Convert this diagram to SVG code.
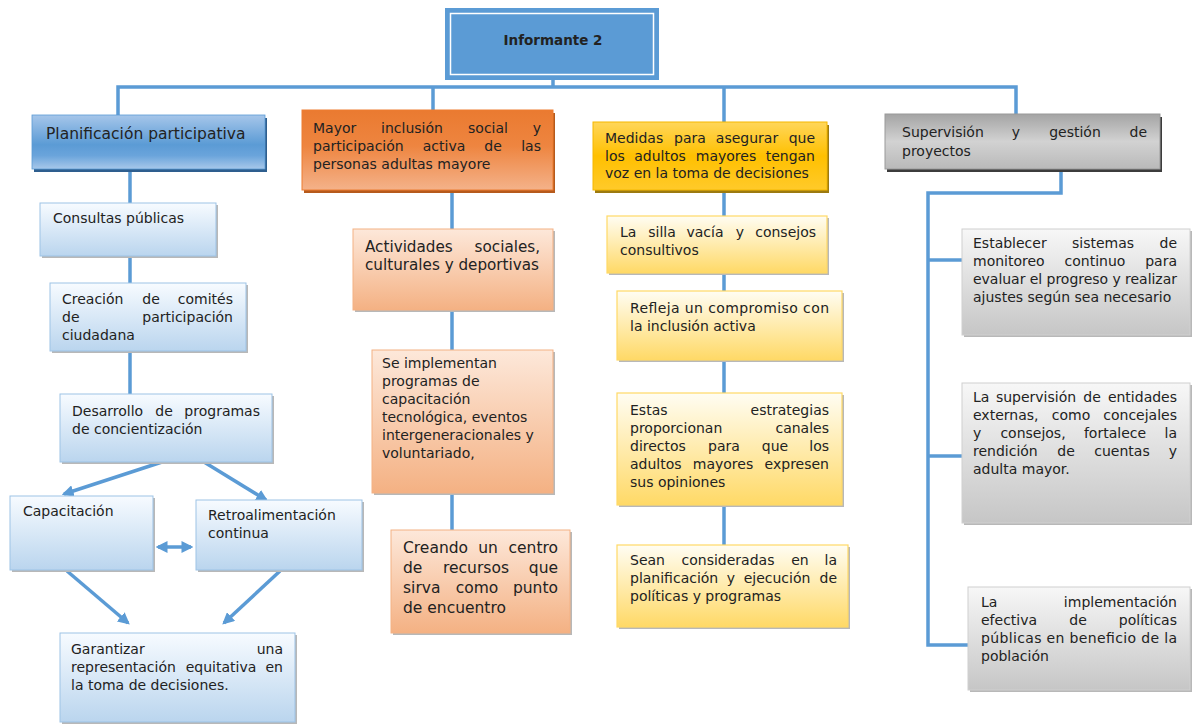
<svg xmlns="http://www.w3.org/2000/svg" width="1192" height="724" viewBox="0 0 1192 724">
<defs>
<style>
.t{font-family:"DejaVu Sans","Liberation Sans",sans-serif;font-size:14px;fill:#222}
.b{font-size:15.5px}
.c{font-size:15.2px}
.m{text-anchor:middle}
.e{text-anchor:end}
.ln{stroke:#5b9bd5;stroke-width:3.5;fill:none}
.ar{stroke:#5b9bd5;stroke-width:3.5;fill:none;marker-end:url(#ah)}
.sh{fill:#b8b8b8}
.sb{fill:url(#gLB);stroke:#9dc3e6;stroke-width:1}
.so{fill:url(#gLO);stroke:#f4b183;stroke-width:1}
.sy{fill:url(#gLY);stroke:#ffd966;stroke-width:1.2}
.sg{fill:url(#gLG);stroke:#d0d0d0;stroke-width:1}
</style>
<linearGradient id="gPlan" x1="0" y1="0" x2="0" y2="1">
<stop offset="0" stop-color="#a6c6ea"/><stop offset="0.55" stop-color="#5b9bd5"/><stop offset="0.75" stop-color="#6aa4db"/><stop offset="1" stop-color="#a8c8ea"/>
</linearGradient>
<linearGradient id="gOr" x1="0" y1="0" x2="0" y2="1">
<stop offset="0" stop-color="#ea7a30"/><stop offset="0.45" stop-color="#ee8540"/><stop offset="1" stop-color="#f4b28a"/>
</linearGradient>
<linearGradient id="gGold" x1="0" y1="0" x2="0" y2="1">
<stop offset="0" stop-color="#ffd65a"/><stop offset="0.5" stop-color="#ffc000"/><stop offset="1" stop-color="#ffca2a"/>
</linearGradient>
<linearGradient id="gGray" x1="0" y1="0" x2="0" y2="1">
<stop offset="0" stop-color="#a4a4a4"/><stop offset="0.5" stop-color="#d2d2d2"/><stop offset="1" stop-color="#b9b9b9"/>
</linearGradient>
<linearGradient id="gLB" x1="0" y1="0" x2="0" y2="1">
<stop offset="0" stop-color="#f7fbff"/><stop offset="1" stop-color="#bad5ee"/>
</linearGradient>
<linearGradient id="gLO" x1="0" y1="0" x2="0" y2="1">
<stop offset="0" stop-color="#fde8da"/><stop offset="1" stop-color="#f4b183"/>
</linearGradient>
<linearGradient id="gLY" x1="0" y1="0" x2="0" y2="1">
<stop offset="0" stop-color="#fffdf3"/><stop offset="1" stop-color="#ffd966"/>
</linearGradient>
<linearGradient id="gLG" x1="0" y1="0" x2="0" y2="1">
<stop offset="0" stop-color="#f7f7f7"/><stop offset="1" stop-color="#c6c6c6"/>
</linearGradient>
<marker id="ah" viewBox="0 0 10 10" refX="8" refY="5" markerWidth="3.4" markerHeight="3.4" orient="auto-start-reverse">
<path d="M0,0 L10,5 L0,10 z" fill="#5b9bd5"/>
</marker>
</defs>
<rect width="1192" height="724" fill="#fff"/>

<g id="connectors">
<path class="ln" d="M553,80 V87"/>
<path class="ln" d="M118,115 V87 H1016 V114"/>
<path class="ln" d="M433,87 V110"/>
<path class="ln" d="M724,87 V122"/>
<path class="ln" d="M130,169 V394"/>
<path class="ln" d="M452,190 V530"/>
<path class="ln" d="M724,190 V545"/>
<path class="ln" d="M1061,169 V193 H928 V645 H968"/>
<path class="ln" d="M928,260 H962"/>
<path class="ln" d="M928,456 H962"/>
<path class="ar" d="M162,462 L64,494"/>
<path class="ar" d="M204,462 L266,500"/>
<path class="ar" d="M158,547 L191,547" marker-start="url(#ah)"/>
<path class="ar" d="M67,571 L128,623"/>
<path class="ar" d="M280,571 L224,623"/>
</g>

<g id="informante">
<rect x="445" y="8" width="214" height="72" fill="#5b9bd5"/>
<rect x="450.5" y="13.5" width="203" height="61" fill="none" stroke="#fff" stroke-width="1.5"/>
<text class="t m" x="553" y="45" style="font-weight:bold;font-size:13.5px">Informante 2</text>
</g>

<g id="planificacion">
<rect x="34" y="118" width="233" height="54" fill="#2e5e8e"/>
<rect x="32" y="115" width="233" height="54" fill="url(#gPlan)" stroke="#5b9bd5" stroke-width="0.8"/>
<text class="t b" x="46" y="139">Planificación participativa</text>
</g>

<g id="consultas">
<rect class="sh" x="42" y="205" width="176" height="53"/>
<rect class="sb" x="40" y="203" width="176" height="53"/>
<text class="t" x="53" y="223">Consultas públicas</text>
</g>

<g id="comites">
<rect class="sh" x="52" y="285" width="196" height="68"/>
<rect class="sb" x="50" y="283" width="196" height="68"/>
<text class="t" y="304"><tspan x="62">Creación</tspan><tspan class="m" x="151">de</tspan><tspan class="e" x="233">comités</tspan></text>
<text class="t" y="322"><tspan x="62">de</tspan><tspan class="e" x="233">participación</tspan></text>
<text class="t" x="62" y="340">ciudadana</text>
</g>

<g id="desarrollo">
<rect class="sh" x="62" y="396" width="212" height="68"/>
<rect class="sb" x="60" y="394" width="212" height="68"/>
<text class="t" y="416"><tspan x="72">Desarrollo</tspan><tspan class="m" x="164">de</tspan><tspan class="e" x="260">programas</tspan></text>
<text class="t" x="72" y="434">de concientización</text>
</g>

<g id="capacitacion">
<rect class="sh" x="12" y="498" width="143" height="74"/>
<rect class="sb" x="10" y="496" width="143" height="74"/>
<text class="t" x="23" y="516">Capacitación</text>
</g>

<g id="retroalimentacion">
<rect class="sh" x="198" y="502" width="166" height="70"/>
<rect class="sb" x="196" y="500" width="166" height="70"/>
<text class="t" x="208" y="520">Retroalimentación</text>
<text class="t" x="208" y="538">continua</text>
</g>

<g id="garantizar">
<rect class="sh" x="62" y="635" width="235" height="89"/>
<rect class="sb" x="60" y="633" width="235" height="89"/>
<text class="t" y="654"><tspan x="71">Garantizar</tspan><tspan class="e" x="283">una</tspan></text>
<text class="t" y="672"><tspan x="71">representación</tspan><tspan class="m" x="221">equitativa</tspan><tspan class="e" x="283">en</tspan></text>
<text class="t" x="71" y="690">la toma de decisiones.</text>
</g>

<g id="inclusion">
<rect x="304" y="113" width="251" height="80" fill="#b65a1c"/>
<rect x="302" y="110" width="251" height="80" fill="url(#gOr)" stroke="#ed7d31" stroke-width="1"/>
<text class="t" y="133"><tspan x="313">Mayor</tspan><tspan class="m" x="412">inclusión</tspan><tspan class="m" x="488">social</tspan><tspan class="e" x="541">y</tspan></text>
<text class="t" y="151"><tspan x="313">participación</tspan><tspan class="m" x="444">activa</tspan><tspan class="m" x="493">de</tspan><tspan class="e" x="541">las</tspan></text>
<text class="t" x="313" y="169">personas adultas mayore</text>
</g>

<g id="actividades">
<rect class="sh" x="355" y="231" width="200" height="81"/>
<rect class="so" x="353" y="229" width="200" height="81"/>
<text class="t c" y="252"><tspan x="365">Actividades</tspan><tspan class="e" x="540">sociales,</tspan></text>
<text class="t c" x="365" y="270">culturales y deportivas</text>
</g>

<g id="programas">
<rect class="sh" x="374" y="352" width="181" height="143"/>
<rect class="so" x="372" y="350" width="181" height="143"/>
<text class="t" x="382" y="368">Se implementan</text>
<text class="t" x="382" y="386">programas de</text>
<text class="t" x="382" y="404">capacitación</text>
<text class="t" x="382" y="422">tecnológica, eventos</text>
<text class="t" x="382" y="440">intergeneracionales y</text>
<text class="t" x="382" y="458">voluntariado,</text>
</g>

<g id="centro">
<rect class="sh" x="393" y="532" width="179" height="103"/>
<rect class="so" x="391" y="530" width="179" height="103"/>
<text class="t b" y="553"><tspan x="403">Creando</tspan><tspan class="m" x="488">un</tspan><tspan class="e" x="558">centro</tspan></text>
<text class="t b" y="573"><tspan x="403">de</tspan><tspan class="m" x="476">recursos</tspan><tspan class="e" x="558">que</tspan></text>
<text class="t b" y="593"><tspan x="403">sirva</tspan><tspan class="m" x="477">como</tspan><tspan class="e" x="558">punto</tspan></text>
<text class="t b" x="403" y="613">de encuentro</text>
</g>

<g id="medidas">
<rect x="595" y="125" width="234" height="68" fill="#9c7a10"/>
<rect x="593" y="122" width="234" height="68" fill="url(#gGold)" stroke="#f5b800" stroke-width="1"/>
<text class="t" y="143"><tspan x="605">Medidas</tspan><tspan class="m" x="690">para</tspan><tspan class="m" x="747">asegurar</tspan><tspan class="e" x="815">que</tspan></text>
<text class="t" y="161"><tspan x="605">los</tspan><tspan class="m" x="660">adultos</tspan><tspan class="m" x="726">mayores</tspan><tspan class="e" x="815">tengan</tspan></text>
<text class="t" x="605" y="178">voz en la toma de decisiones</text>
</g>

<g id="silla">
<rect class="sh" x="609" y="218" width="220" height="57"/>
<rect class="sy" x="607" y="216" width="220" height="57"/>
<text class="t" y="237"><tspan x="620">La</tspan><tspan class="m" x="662">silla</tspan><tspan class="m" x="705">vacía</tspan><tspan class="m" x="740">y</tspan><tspan class="e" x="816">consejos</tspan></text>
<text class="t" x="620" y="255">consultivos</text>
</g>

<g id="compromiso">
<rect class="sh" x="619" y="293" width="225" height="69"/>
<rect class="sy" x="617" y="291" width="225" height="69"/>
<text class="t" x="630" y="313" textLength="199" lengthAdjust="spacing">Refleja un compromiso con</text>
<text class="t" x="630" y="331">la inclusión activa</text>
</g>

<g id="estrategias">
<rect class="sh" x="619" y="395" width="225" height="112"/>
<rect class="sy" x="617" y="393" width="225" height="112"/>
<text class="t" y="415"><tspan x="630">Estas</tspan><tspan class="e" x="829">estrategias</tspan></text>
<text class="t" y="433"><tspan x="630">proporcionan</tspan><tspan class="e" x="829">canales</tspan></text>
<text class="t" y="451"><tspan x="630">directos</tspan><tspan class="m" x="724">para</tspan><tspan class="m" x="775">que</tspan><tspan class="e" x="829">los</tspan></text>
<text class="t" y="469"><tspan x="630">adultos</tspan><tspan class="m" x="723">mayores</tspan><tspan class="e" x="829">expresen</tspan></text>
<text class="t" x="630" y="487">sus opiniones</text>
</g>

<g id="consideradas">
<rect class="sh" x="619" y="547" width="231" height="82"/>
<rect class="sy" x="617" y="545" width="231" height="82"/>
<text class="t" y="565"><tspan x="630">Sean</tspan><tspan class="m" x="728">consideradas</tspan><tspan class="m" x="800">en</tspan><tspan class="e" x="837">la</tspan></text>
<text class="t" y="583"><tspan x="630">planificación</tspan><tspan class="m" x="731">y</tspan><tspan class="m" x="777">ejecución</tspan><tspan class="e" x="837">de</tspan></text>
<text class="t" x="630" y="601">políticas y programas</text>
</g>

<g id="supervision">
<rect x="887" y="117" width="275" height="55" fill="#3c3c3c"/>
<rect x="885" y="114" width="275" height="55" fill="url(#gGray)" stroke="#9a9a9a" stroke-width="1"/>
<text class="t" y="137"><tspan x="902">Supervisión</tspan><tspan class="m" x="1016">y</tspan><tspan class="m" x="1075">gestión</tspan><tspan class="e" x="1147">de</tspan></text>
<text class="t" x="902" y="156">proyectos</text>
</g>

<g id="monitoreo">
<rect class="sh" x="964" y="231" width="228" height="106"/>
<rect class="sg" x="962" y="229" width="228" height="106"/>
<text class="t" y="248"><tspan x="973">Establecer</tspan><tspan class="m" x="1103">sistemas</tspan><tspan class="e" x="1177">de</tspan></text>
<text class="t" y="266"><tspan x="973">monitoreo</tspan><tspan class="m" x="1095">continuo</tspan><tspan class="e" x="1177">para</tspan></text>
<text class="t" x="973" y="284" textLength="204" lengthAdjust="spacing">evaluar el progreso y realizar</text>
<text class="t" x="973" y="302">ajustes según sea necesario</text>
</g>

<g id="entidades">
<rect class="sh" x="964" y="385" width="228" height="140"/>
<rect class="sg" x="962" y="383" width="228" height="140"/>
<text class="t" y="402"><tspan x="973">La</tspan><tspan class="m" x="1036">supervisión</tspan><tspan class="m" x="1092">de</tspan><tspan class="e" x="1177">entidades</tspan></text>
<text class="t" y="420"><tspan x="973">externas,</tspan><tspan class="m" x="1071">como</tspan><tspan class="e" x="1177">concejales</tspan></text>
<text class="t" y="438"><tspan x="973">y</tspan><tspan class="m" x="1033">consejos,</tspan><tspan class="m" x="1115">fortalece</tspan><tspan class="e" x="1177">la</tspan></text>
<text class="t" y="456"><tspan x="973">rendición</tspan><tspan class="m" x="1066">de</tspan><tspan class="m" x="1122">cuentas</tspan><tspan class="e" x="1177">y</tspan></text>
<text class="t" x="973" y="474">adulta mayor.</text>
</g>

<g id="politicas">
<rect class="sh" x="970" y="589" width="222" height="103"/>
<rect class="sg" x="968" y="587" width="222" height="103"/>
<text class="t" y="607"><tspan x="981">La</tspan><tspan class="e" x="1177">implementación</tspan></text>
<text class="t" y="625"><tspan x="981">efectiva</tspan><tspan class="m" x="1078">de</tspan><tspan class="e" x="1177">políticas</tspan></text>
<text class="t" x="981" y="643" textLength="196" lengthAdjust="spacing">públicas en beneficio de la</text>
<text class="t" x="981" y="661">población</text>
</g>
</svg>
